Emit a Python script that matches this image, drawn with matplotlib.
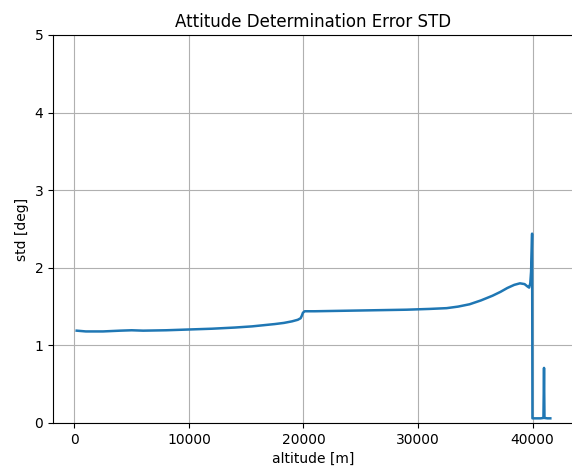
import matplotlib
matplotlib.use('Agg')
import matplotlib.pyplot as plt

# valori
altitude = [200, 1000, 2500, 4000, 5000, 6000, 8000, 10000, 12000, 14000,
            15500, 16500, 17500, 18300, 19000, 19500, 19750, 19850, 19950, 20100,
            21000, 23000, 25000, 27000, 29000, 31000, 32500, 33500, 34500, 35500,
            36500, 37200, 37800, 38400, 38900, 39300, 39550, 39700, 39800, 39870,
            39930, 39960, 39990, 40300, 40700, 40950, 41000, 41040, 41300, 41550]
std_deg = [1.19, 1.18, 1.18, 1.19, 1.195, 1.19, 1.195, 1.205, 1.215, 1.23,
           1.245, 1.26, 1.275, 1.29, 1.31, 1.33, 1.35, 1.38, 1.42, 1.44,
           1.44, 1.445, 1.45, 1.455, 1.46, 1.47, 1.48, 1.50, 1.53, 1.58,
           1.64, 1.69, 1.74, 1.78, 1.80, 1.79, 1.76, 1.745, 1.80, 1.95,
           2.25, 2.44, 0.06, 0.06, 0.06, 0.065, 0.71, 0.065, 0.06, 0.06]

fig = plt.figure(figsize=(5.72, 4.70), dpi=100)
ax = fig.add_axes([53 / 572, 47 / 470, 521 / 572, 388 / 470])

ax.plot(altitude, std_deg, linewidth=1.8)
ax.set_ylim(0, 5)
ax.set_xlabel('altitude [m]')
ax.set_ylabel('std [deg]')
ax.set_title('Attitude Determination Error STD')
ax.grid(True)

fig.savefig('out.png', dpi=100)
